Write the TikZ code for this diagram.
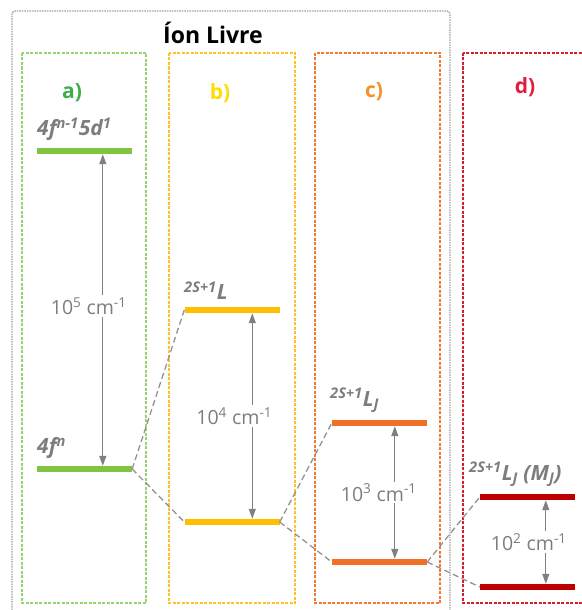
\documentclass[tikz,border=0pt]{standalone}
\usepackage{fontspec}
\setmainfont{Open Sans}
\usetikzlibrary{arrows.meta,calc}
\definecolor{cgreen}{RGB}{128,196,64}
\definecolor{cyellow}{RGB}{255,190,0}
\definecolor{corange}{RGB}{240,112,40}
\definecolor{cred}{RGB}{192,0,0}
\definecolor{lgreen}{RGB}{60,175,75}
\definecolor{lyellow}{RGB}{255,220,0}
\definecolor{lorange}{RGB}{245,145,40}
\definecolor{lred}{RGB}{225,30,60}
\definecolor{bgreen}{RGB}{150,210,110}
\definecolor{byellow}{RGB}{255,195,40}
\definecolor{borange}{RGB}{245,120,50}
\definecolor{bred}{RGB}{215,30,45}
\definecolor{txtgray}{RGB}{125,125,125}
\tikzset{
  bar/.style={rectangle, inner sep=0pt, minimum width=95pt, minimum height=6pt},
  panel/.style={dash pattern=on 3pt off 1.5pt, line width=1.2pt},
  lvl/.style={text=txtgray, font=\fontsize{21}{21}\selectfont\bfseries\itshape, inner sep=0pt},
  gap/.style={text=txtgray, fill=white, font=\fontsize{19.5}{19.5}\selectfont, inner sep=2pt},
  tag/.style={font=\fontsize{21}{21}\selectfont\bfseries, inner sep=0pt},
  conn/.style={draw=gray!85, dash pattern=on 6pt off 3.5pt, line width=1.3pt},
  sep/.style={draw=gray, line width=1.2pt, {Triangle[length=10pt,width=7pt]}-{Triangle[length=10pt,width=7pt]}}
}
\begin{document}
\begin{tikzpicture}[x=1pt,y=-1pt]
\useasboundingbox (0,0) rectangle (581,610);
% outer box
\draw[gray!75, dash pattern=on 1.5pt off 1pt, line width=1.4pt, rounded corners=3pt] (12,620) -- (12,11) -- (450,11) -- (450,620);
\node[font=\fontsize{23}{23}\selectfont\bfseries, inner sep=0pt] (title) at (213,33) {Íon Livre};
% panels
\draw[panel, draw=bgreen] (22,53) rectangle (146,603);
\draw[panel, draw=byellow] (169,53) rectangle (295,603);
\draw[panel, draw=borange] (315,53) rectangle (440,603);
\draw[panel, draw=bred] (463,53) rectangle (600,603);
% tags
\node[tag, text=lgreen] (ta) at (72,93) {a)};
\node[tag, text=lyellow] (tb) at (220,93) {b)};
\node[tag, text=lorange] (tc) at (374,92) {c)};
\node[tag, text=lred] (td) at (525,87) {d)};
% bars
\node[bar, fill=cgreen] (a1) at (84.5,151) {};
\node[bar, fill=cgreen] (a2) at (84.5,469) {};
\node[bar, fill=cyellow] (b1) at (232,310) {};
\node[bar, fill=cyellow] (b2) at (232,522) {};
\node[bar, fill=corange] (c1) at (379.5,423) {};
\node[bar, fill=corange] (c2) at (379.5,562) {};
\node[bar, fill=cred] (d1) at (527.5,497) {};
\node[bar, fill=cred] (d2) at (527.5,587) {};
% level labels
\node[lvl, anchor=south west] (la1) at (37,141) {4f\textsuperscript{n-1}5d\textsuperscript{1}};
\node[lvl, anchor=south west] (la2) at (37,459) {4f\textsuperscript{n}};
\node[lvl, anchor=south west] (lb1) at (184,300) {\textsuperscript{2S+1}L};
\node[lvl, anchor=south west] (lc1) at (330,413) {\textsuperscript{2S+1}L\textsubscript{J}};
\node[lvl, anchor=south west] (ld1) at (469,487) {\textsuperscript{2S+1}L\textsubscript{J} (M\textsubscript{J})};
% energy gaps
\draw[sep] ([xshift=66pt]a1.south west) -- ([xshift=66pt]a2.north west) node[gap, midway, xshift=-14pt, yshift=4pt] (ga) {10\textsuperscript{5} cm\textsuperscript{-1}};
\draw[sep] ([xshift=68pt]b1.south west) -- ([xshift=68pt]b2.north west) node[gap, midway, xshift=-18pt] (gb) {10\textsuperscript{4} cm\textsuperscript{-1}};
\draw[sep] ([xshift=63pt]c1.south west) -- ([xshift=63pt]c2.north west) node[gap, midway, xshift=-16pt] (gc) {10\textsuperscript{3} cm\textsuperscript{-1}};
\draw[sep] ([xshift=66pt]d1.south west) -- ([xshift=66pt]d2.north west) node[gap, midway, xshift=-17pt] (gd) {10\textsuperscript{2} cm\textsuperscript{-1}};
% splitting connectors
\draw[conn] (a2.east) -- (b1.west);
\draw[conn] (a2.east) -- (b2.west);
\draw[conn] (b2.east) -- (c1.west);
\draw[conn] (b2.east) -- (c2.west);
\draw[conn] (c2.east) -- (d1.west);
\draw[conn] (c2.east) -- (d2.west);
\end{tikzpicture}
\end{document}
